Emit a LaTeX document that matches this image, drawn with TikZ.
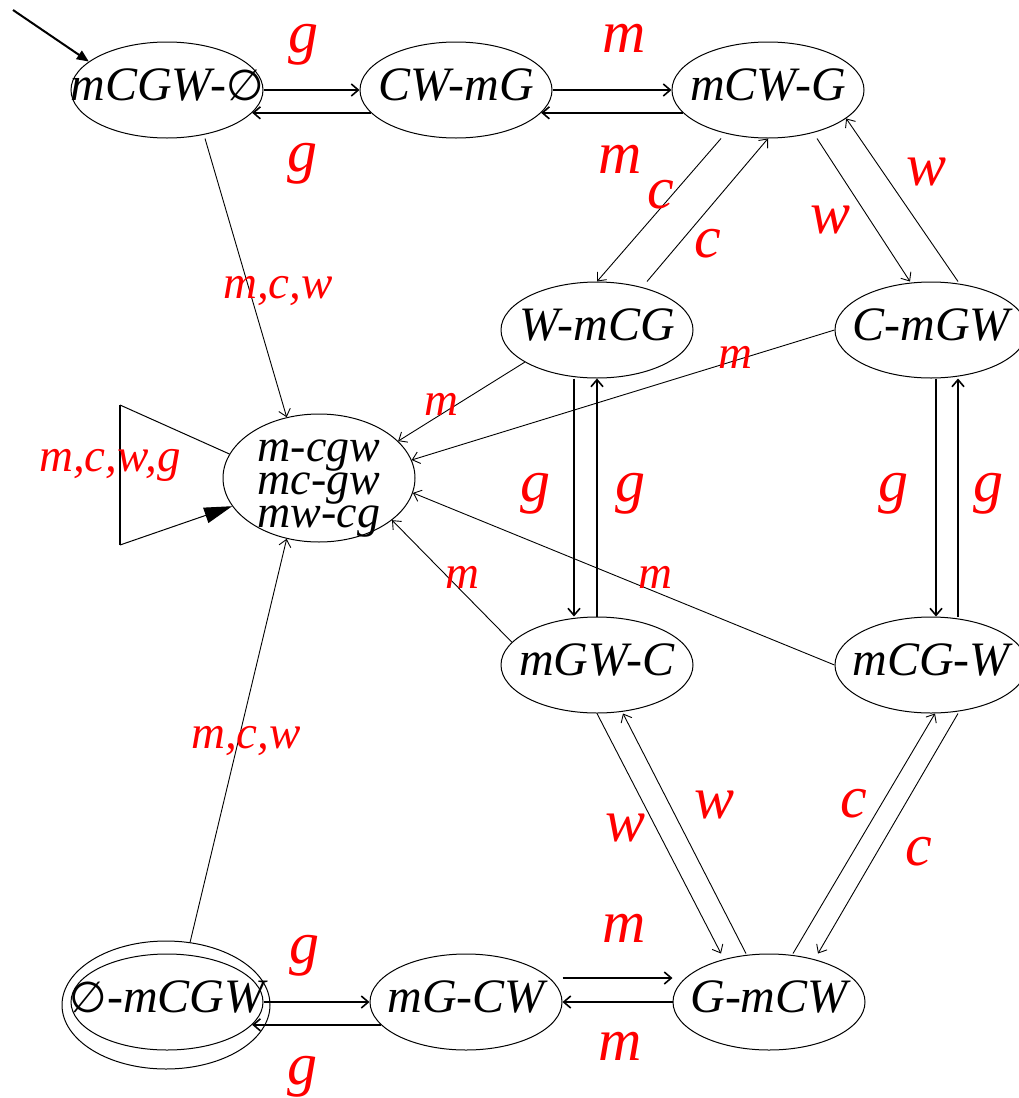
\documentclass[tikz,border=0pt]{standalone}
\usepackage{fontspec}
\setmainfont{Liberation Serif}
\newfontfamily\emptyfont{DejaVu Sans}
\usetikzlibrary{arrows.meta,shapes.geometric,positioning}
\newcommand{\stname}[1]{\makebox[0pt]{#1}}
\newcommand{\emptysym}{{\emptyfont\upshape\fontsize{43}{43}\selectfont ∅}}

\begin{document}
\begin{tikzpicture}[x=1pt,y=-1pt,
    state/.style={ellipse,draw,line width=1pt,minimum width=192pt,minimum height=96pt,inner sep=0pt,
      text height=20pt,text depth=0pt,font=\fontsize{48}{48}\selectfont\itshape},
    move/.style={line width=0.9pt,-{Straight Barb[length=7pt,width=12pt]}},
    pair/.style={move,line width=1.6pt},
    biglbl/.style={red,inner sep=0pt,font=\fontsize{60}{60}\selectfont\itshape},
    smalllbl/.style={red,inner sep=0pt,font=\fontsize{47}{47}\selectfont\itshape}]
  \useasboundingbox (0,0) rectangle (1018,1098);
  \node[state] (A) at (167,90) {\stname{mCGW-\emptysym}};
  \node[state,right=96pt of A] (B) {\stname{CW-mG}};
  \node[state,right=119pt of B] (C) {\stname{mCW-G}};
  \node[state] (D) at (597,330) {\stname{W-mCG}};
  \node[state] (E) at (931,330) {\stname{C-mGW}};
  \node[state,minimum height=128pt,text height=0pt,text depth=33pt,font=\fontsize{46}{33}\selectfont\itshape] (X) at (319,478)
    {\stname{\begin{tabular}[t]{@{}l@{}}m-cgw\\mc-gw\\mw-cg\end{tabular}}};
  \node[state] (F) at (597,665) {\stname{mGW-C}};
  \node[state] (H) at (931,665) {\stname{mCG-W}};
  \node[state] (Z) at (167,1002) {\stname{\emptysym-mCGW}};
  \node[ellipse,draw,line width=1pt,minimum width=208pt,minimum height=128pt] (Zo) at (166,1005) {};
  \node[state,right=106pt of Z] (Y) {\stname{mG-CW}};
  \node[state,right=110pt of Y] (G) {\stname{G-mCW}};

  \coordinate (init) at (13,10);
  \draw[line width=2pt,-{Triangle[length=12pt,width=10pt]}] (init) -- (A.160);

  \draw[pair] (A.east) -- (B.west);
  \draw[pair] (B.195) -- (A.345);
  \draw[pair] (B.east) -- (C.west);
  \draw[pair] (C.195) -- (B.345);
  \draw[move] ([xshift=-47pt]C.south) -- (D.north);
  \draw[move] ([xshift=50pt]D.north) -- (C.south);
  \draw[move] ([xshift=49pt]C.south) -- ([xshift=-21pt]E.north);
  \draw[move] ([xshift=27pt]E.north) -- (C.-20);
  \draw[pair] ([xshift=-23pt]D.south) -- ([xshift=-23pt]F.north);
  \draw[pair] (F.north) -- (D.south);
  \draw[pair] ([xshift=5pt]E.south) -- ([xshift=5pt]H.north);
  \draw[pair] ([xshift=27pt]H.north) -- ([xshift=27pt]E.south);
  \draw[move] (F.south) -- ([xshift=-48pt]G.north);
  \draw[move] ([xshift=-23pt]G.north) -- ([xshift=26pt]F.south);
  \draw[move] ([xshift=24pt]G.north) -- ([xshift=4pt]H.south);
  \draw[move] ([xshift=27pt]H.south) -- ([xshift=49pt]G.north);
  \draw[pair] ([yshift=24pt]Y.east) -- ([yshift=24pt]G.west);
  \draw[pair] (G.west) -- (Y.east);
  \draw[pair] (Z.east) -- (Y.west);
  \draw[pair] (Y.195) -- (Z.345);

  \draw[move] ([xshift=38pt]A.south) -- (X.118);
  \draw[move] (Zo.69) -- (X.242);
  \draw[move] (D.204) -- (X.25);
  \draw[move] (E.west) -- (X.11);
  \draw[move] (F.165) -- (X.-30);
  \draw[move] (H.west) -- (X.-9);

  \coordinate (loopa) at (120,405);
  \coordinate (loopb) at (120,545);
  \draw[line width=1pt] (X.165) -- (loopa);
  \draw[line width=2pt] (loopa) -- (loopb);
  \draw[line width=1pt,-{Triangle[length=28pt,width=16pt]}] (loopb) -- (X.198);

  \node[biglbl] (gAB) at (303,45) {g};
  \node[biglbl] (gBA) at (302,164) {g};
  \node[biglbl] (mBC) at (624,38) {m};
  \node[biglbl] (mCB) at (620,159) {m};
  \node[biglbl] (cCD) at (661,195) {c};
  \node[biglbl] (cDC) at (708,244) {c};
  \node[biglbl] (wCE) at (831,220) {w};
  \node[biglbl] (wEC) at (927,172) {w};
  \node[biglbl] (gDF) at (535,494) {g};
  \node[biglbl] (gFD) at (630,494) {g};
  \node[biglbl] (gEH) at (893,494) {g};
  \node[biglbl] (gHE) at (988,494) {g};
  \node[biglbl] (wFG) at (626,828) {w};
  \node[biglbl] (wGF) at (715,805) {w};
  \node[biglbl] (cGH) at (854,804) {c};
  \node[biglbl] (cHG) at (919,852) {c};
  \node[biglbl] (mYG) at (624,928) {m};
  \node[biglbl] (mGY) at (620,1046) {m};
  \node[biglbl] (gZY) at (304,956) {g};
  \node[biglbl] (gYZ) at (302,1077) {g};
  \node[smalllbl] (mcwA) at (278,291) {m,c,w};
  \node[smalllbl] (mcwZ) at (246,741) {m,c,w};
  \node[smalllbl] (mD) at (441,404) {m};
  \node[smalllbl] (mE) at (735,357) {m};
  \node[smalllbl] (mF) at (462,577) {m};
  \node[smalllbl] (mH) at (655,577) {m};
  \node[smalllbl] (mcwg) at (110,465) {m,c,w,g};
\end{tikzpicture}
\end{document}
